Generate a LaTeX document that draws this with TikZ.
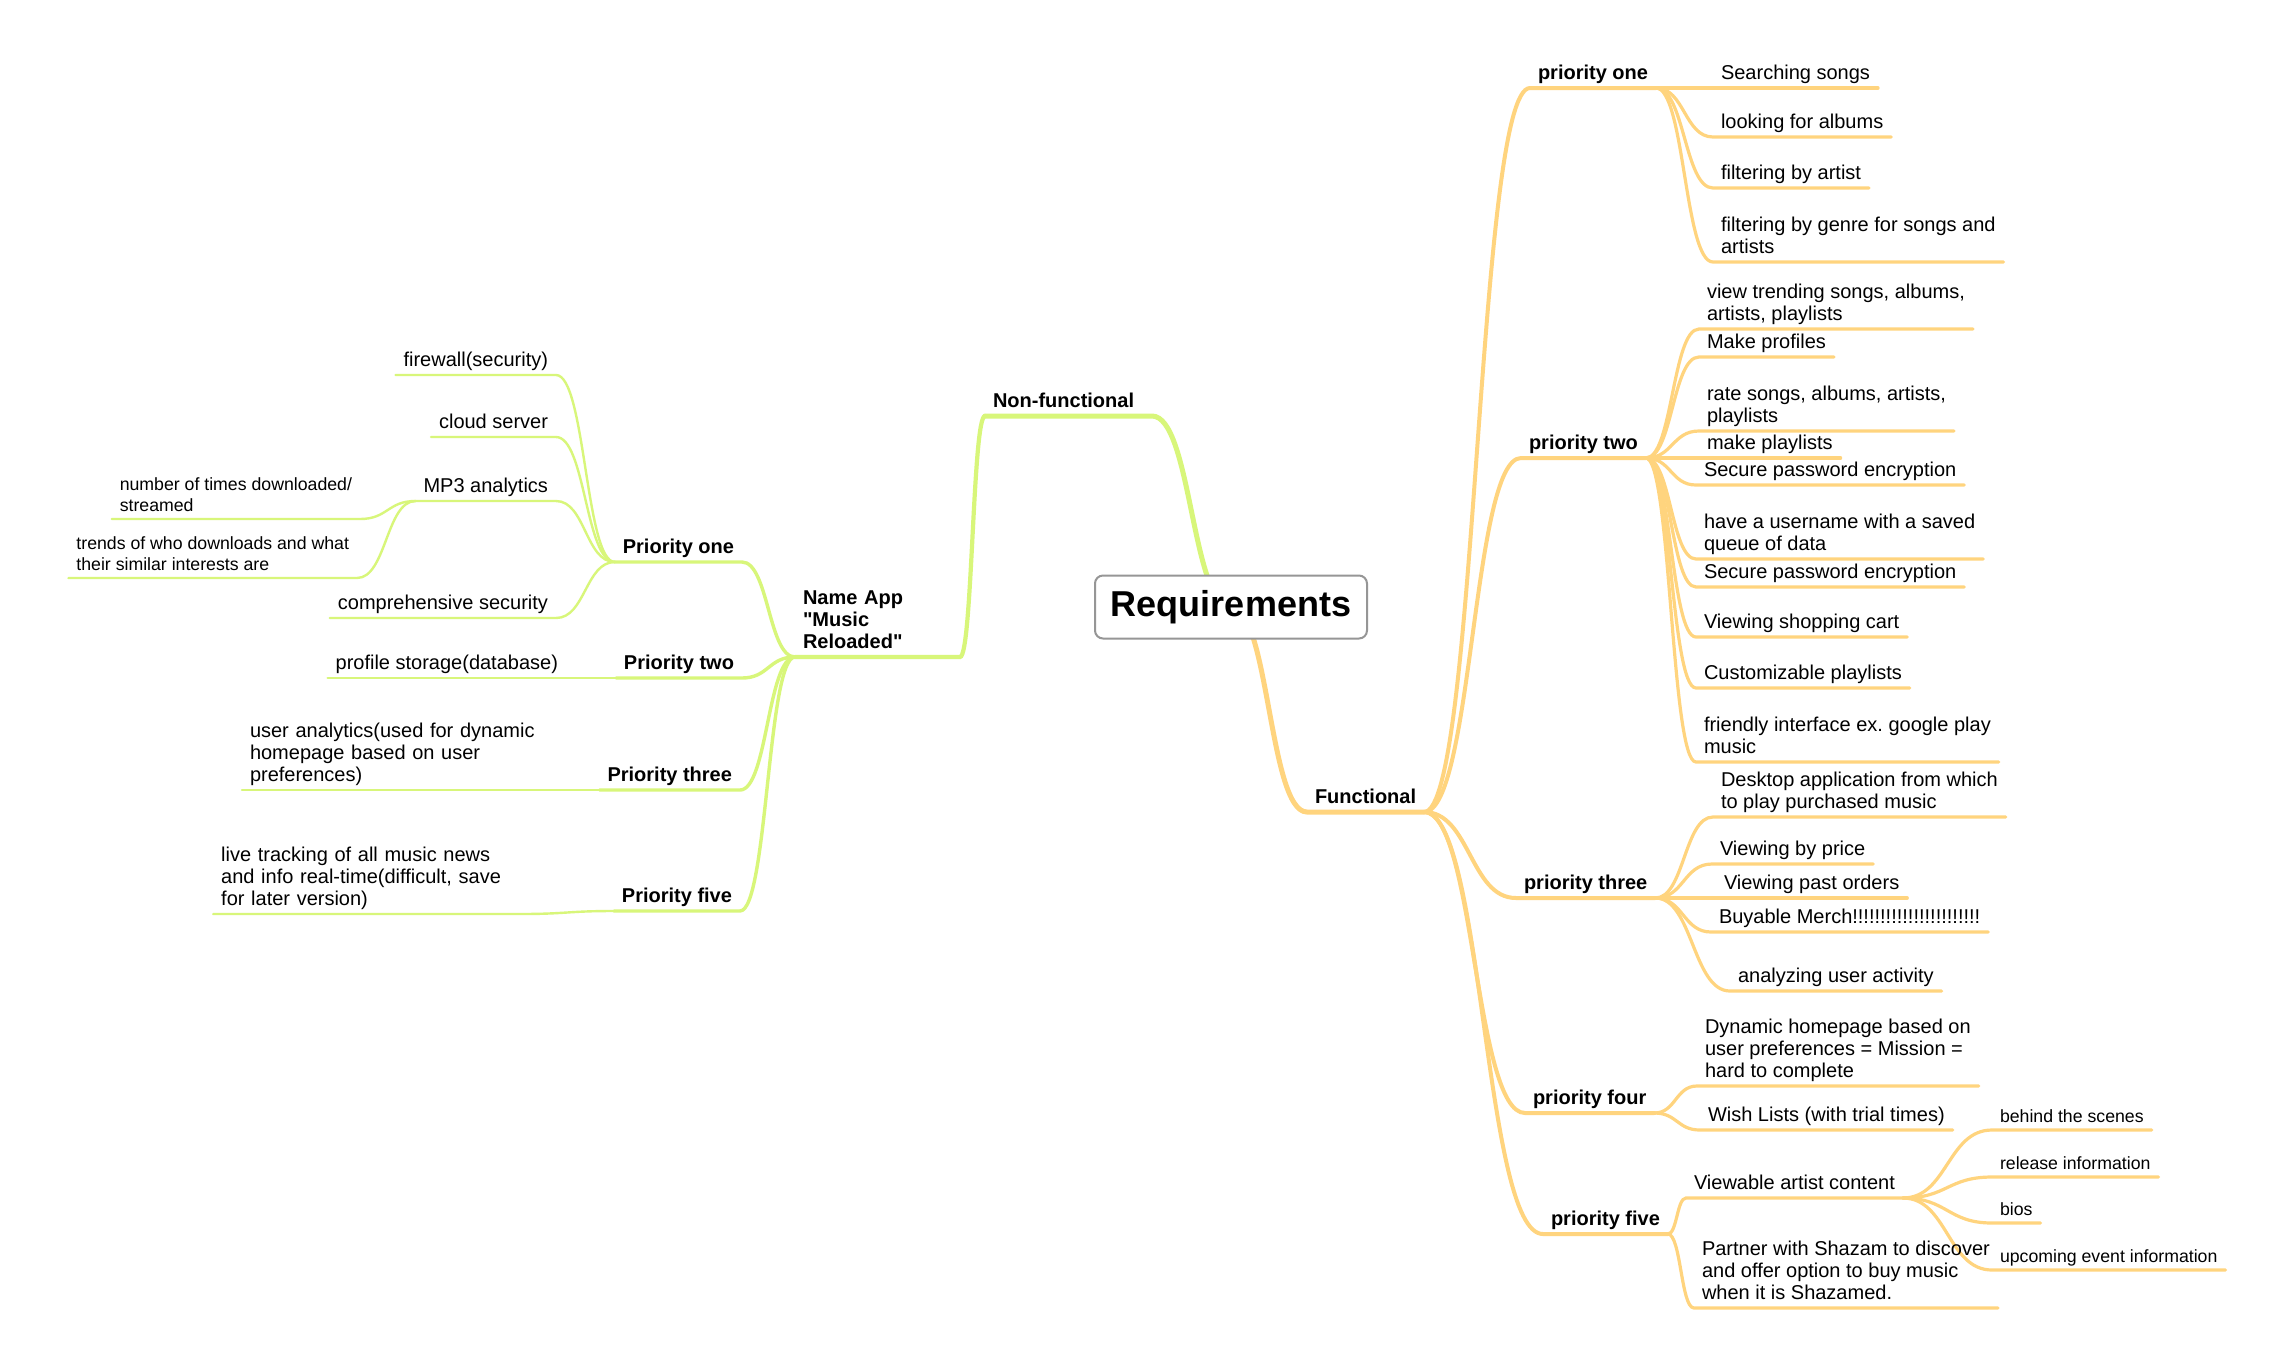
\documentclass[tikz,border=0pt]{standalone}
\usepackage{fontspec}
\setmainfont{Liberation Sans}
\usepackage{xcolor}
\definecolor{funcline}{RGB}{255,212,126}
\definecolor{nonfline}{RGB}{216,246,122}
\definecolor{rootrim}{RGB}{150,150,150}
\usetikzlibrary{calc, backgrounds}
\tikzstyle{topic} = [anchor=south west, inner xsep=4pt, inner ysep=0.7pt,
outer sep=0pt, align=left, execute at end node=\strut,
font=\fontsize{10}{11.2}\selectfont]
\tikzstyle{maintopic} = [topic, font=\fontsize{10}{11.2}\selectfont\bfseries]
\tikzstyle{subtopic} = [topic, font=\fontsize{8.85}{10.5}\selectfont]
\tikzstyle{central} = [draw=rootrim, fill=white, line width=1pt,
rounded corners=4pt, minimum width=136pt, minimum height=31.5pt,
inner sep=0pt, font=\fontsize{18}{21}\selectfont\bfseries]
\tikzstyle{mapcurve} = [to path={let \p1=(\tikztostart), \p2=(\tikztotarget) in
.. controls ({(\x1+\x2)/2},\y1) and ({(\x1+\x2)/2},\y2) .. (\tikztotarget)}]
\tikzstyle{Ftrunk} = [draw=funcline, line width=2.5pt, line cap=round]
\tikzstyle{Fbranch} = [draw=funcline, line width=2pt, line cap=round]
\tikzstyle{Ftwig} = [draw=funcline, line width=1.6pt, line cap=round]
\tikzstyle{Gtrunk} = [draw=nonfline, line width=2.5pt, line cap=round]
\tikzstyle{Glimb} = [draw=nonfline, line width=2.1pt, line cap=round]
\tikzstyle{Gbranch} = [draw=nonfline, line width=1.7pt, line cap=round]
\tikzstyle{Gtwig} = [draw=nonfline, line width=1.2pt, line cap=round]

\begin{document}
\begin{tikzpicture}[x=0.5pt, y=-0.5pt]
    \useasboundingbox (0,0) rectangle (2287,1367);

    \node[central] (req) at (1231,607) {Requirements};

    % functional side
    \node[maintopic] (func) at (1307,812) {Functional};
    \node[maintopic] (fone) at (1530,88) {priority one};
    \node[maintopic] (ftwo) at (1521,458) {priority two};
    \node[maintopic] (fthree) at (1516,898) {priority three};
    \node[maintopic] (ffour) at (1525,1113) {priority four};
    \node[maintopic] (ffive) at (1543,1234) {priority five};

    \node[topic] (search) at (1713,88) {Searching songs};
    \node[topic] (albums) at (1713,137) {looking for albums};
    \node[topic] (byartist) at (1713,188) {filtering by artist};
    \node[topic] (bygenre) at (1713,262) {filtering by genre for songs and\\artists};

    \node[topic] (trending) at (1699,329) {view trending songs, albums,\\artists, playlists};
    \node[topic] (profiles) at (1699,357) {Make profiles};
    \node[topic] (rate) at (1699,431) {rate songs, albums, artists,\\playlists};
    \node[topic] (mkplay) at (1699,458) {make playlists};
    \node[topic] (secure1) at (1696,485) {Secure password encryption};
    \node[topic] (username) at (1696,559) {have a username with a saved\\queue of data};
    \node[topic] (secure2) at (1696,587) {Secure password encryption};
    \node[topic] (cart) at (1696,637) {Viewing shopping cart};
    \node[topic] (custom) at (1696,688) {Customizable playlists};
    \node[topic] (friendly) at (1696,762) {friendly interface ex.\ google play\\music};

    \node[topic] (desktop) at (1713,817) {Desktop application from which\\to play purchased music};
    \node[topic] (byprice) at (1712,864) {Viewing by price};
    \node[topic] (orders) at (1716,898) {Viewing past orders};
    \node[topic] (merch) at (1711,932) {Buyable Merch!!!!!!!!!!!!!!!!!!!!!!!};
    \node[topic] (activity) at (1730,991) {analyzing user activity};

    \node[topic] (homepage) at (1697,1086) {Dynamic homepage based on\\user preferences = Mission =\\hard to complete};
    \node[topic] (wish) at (1700,1130) {Wish Lists (with trial times)};

    \node[topic] (artist) at (1686,1198) {Viewable artist content};
    \node[topic] (shazam) at (1694,1308) {Partner with Shazam to discover\\and offer option to buy music\\when it is Shazamed.};
    \node[subtopic] (scenes) at (1992,1130) {behind the scenes};
    \node[subtopic] (release) at (1992,1177) {release information};
    \node[subtopic] (bios) at (1992,1223) {bios};
    \node[subtopic] (events) at (1992,1270) {upcoming event information};

    % non-functional side, anchored at the junction end
    \node[maintopic, text width=75.5pt] (nonf) at (985,416) {Non-functional};
    \node[maintopic, anchor=south east, text width=74.5pt] (app) at (960,657) {Name App\\\textquotedbl Music\\Reloaded\textquotedbl};
    \node[maintopic, anchor=south east] (pone) at (742,562) {Priority one};
    \node[maintopic, anchor=south east] (ptwo) at (742,678) {Priority two};
    \node[maintopic, anchor=south east] (pthree) at (740,790) {Priority three};
    \node[maintopic, anchor=south east] (pfive) at (740,911) {Priority five};

    \node[topic, anchor=south east] (firewall) at (556,375) {firewall(security)};
    \node[topic, anchor=south east] (cloud) at (556,437) {cloud server};
    \node[topic, anchor=south east] (mpthree) at (556,501) {MP3 analytics};
    \node[topic, anchor=south east] (compsec) at (556,618) {comprehensive security};
    \node[subtopic, anchor=south east] (downloads) at (360,519) {number of times downloaded/\\streamed};
    \node[subtopic, anchor=south east] (trends) at (357,578) {trends of who downloads and what\\their similar interests are};
    \node[topic, anchor=south east] (storage) at (566,678) {profile storage(database)};
    \node[topic, anchor=south east, text width=166pt] (analytics) at (590,790) {user analytics(used for dynamic\\homepage based on user\\preferences)};
    \node[topic, anchor=south east, text width=145.4pt] (tracking) at (520,914) {live tracking of all music news\\and info real-time(difficult, save\\for later version)};

    \begin{scope}[on background layer]
    \fill[white] (0,0) rectangle (2287,1367);
    \draw[Ftrunk] (req.center) to[mapcurve] (func.south west) -- (func.south east);
    \foreach \c in {fone,ftwo,fthree,ffour,ffive}
        \draw[Fbranch] (func.south east) to[mapcurve] (\c.south west) -- (\c.south east);
    \foreach \c in {search,albums,byartist,bygenre}
        \draw[Ftwig] (fone.south east) to[mapcurve] (\c.south west) -- (\c.south east);
    \foreach \c in {trending,profiles,rate,mkplay,secure1,username,secure2,cart,custom,friendly}
        \draw[Ftwig] (ftwo.south east) to[mapcurve] (\c.south west) -- (\c.south east);
    \foreach \c in {desktop,byprice,orders,merch,activity}
        \draw[Ftwig] (fthree.south east) to[mapcurve] (\c.south west) -- (\c.south east);
    \foreach \c in {homepage,wish}
        \draw[Ftwig] (ffour.south east) to[mapcurve] (\c.south west) -- (\c.south east);
    \foreach \c in {artist,shazam}
        \draw[Ftwig] (ffive.south east) to[mapcurve] (\c.south west) -- (\c.south east);
    \foreach \c in {scenes,release,bios,events}
        \draw[Ftwig] (artist.south east) to[mapcurve] (\c.south west) -- (\c.south east);

    \draw[Gtrunk] (req.center) to[mapcurve] (nonf.south east) -- (nonf.south west);
    \draw[Glimb] (nonf.south west) to[mapcurve] (app.south east) -- (app.south west);
    \foreach \c in {pone,ptwo,pthree,pfive}
        \draw[Gbranch] (app.south west) to[mapcurve] (\c.south east) -- (\c.south west);
    \foreach \c in {firewall,cloud,mpthree,compsec}
        \draw[Gtwig] (pone.south west) to[mapcurve] (\c.south east) -- (\c.south west);
    \foreach \c in {downloads,trends}
        \draw[Gtwig] (mpthree.south west) to[mapcurve] (\c.south east) -- (\c.south west);
    \draw[Gtwig] (ptwo.south west) to[mapcurve] (storage.south east) -- (storage.south west);
    \draw[Gtwig] (pthree.south west) to[mapcurve] (analytics.south east) -- (analytics.south west);
    \draw[Gtwig] (pfive.south west) to[mapcurve] (tracking.south east) -- (tracking.south west);
    \end{scope}
\end{tikzpicture}
\end{document}
